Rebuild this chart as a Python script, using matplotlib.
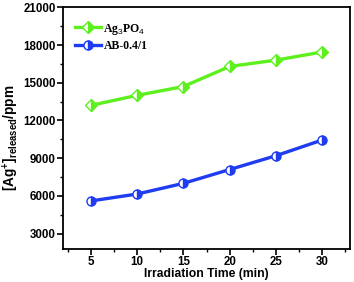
import matplotlib
matplotlib.use("Agg")
import matplotlib.pyplot as plt
from matplotlib.ticker import MultipleLocator

time_min = [5, 10, 15, 20, 25, 30]
ag3po4 = [13200, 14000, 14700, 16300, 16800, 17450]
ab_04_1 = [5600, 6150, 7000, 8100, 9200, 10450]
series_labels = ["Ag$_3$PO$_4$", "AB-0.4/1"]

plt.rcParams['font.family'] = ['Liberation Sans', 'DejaVu Sans']
plt.rcParams['mathtext.fontset'] = 'custom'
plt.rcParams['mathtext.rm'] = 'Liberation Sans'
plt.rcParams['mathtext.bf'] = 'Liberation Sans:bold'
fig = plt.figure(figsize=(3.54, 2.82), dpi=100)
ax = fig.add_axes([0.178, 0.118, 0.811, 0.856])

ax.plot(time_min, ag3po4, color='#5ef01e', lw=2.4, marker='D', ms=6.5,
        fillstyle='right', markerfacecoloralt='white', mec='#5ef01e', mew=1.0,
        label=series_labels[0])
ax.plot(time_min, ab_04_1, color='#1f3cf0', lw=2.4, marker='o', ms=6.5,
        fillstyle='right', markerfacecoloralt='white', mec='#1f3cf0', mew=1.0,
        label=series_labels[1])

ax.set_xlim(2, 33)
ax.set_ylim(1800, 21000)
ax.xaxis.set_minor_locator(MultipleLocator(2.5))
ax.yaxis.set_minor_locator(MultipleLocator(1500))
ax.set_xticks([5, 10, 15, 20, 25, 30])
ax.set_yticks([3000, 6000, 9000, 12000, 15000, 18000, 21000])

ax.tick_params(which='major', direction='out', length=4, width=1.2, labelsize=8.3, pad=1.2)
ax.tick_params(which='minor', direction='out', length=2, width=1.0)
for lab in ax.get_xticklabels() + ax.get_yticklabels():
    lab.set_fontweight('bold')
for sp in ax.spines.values():
    sp.set_linewidth(1.3)

ax.set_xlabel('Irradiation Time (min)', fontsize=8.7, fontweight='bold')
ax.xaxis.set_label_coords(0.498, -0.079)
ax.set_ylabel(r'$\mathbf{[Ag^{+}]_{released}/ppm}$', fontsize=9.8,
              fontweight='bold')
ax.yaxis.set_label_coords(-0.148, 0.46)

leg = ax.legend(loc='upper left', frameon=False,
                prop={'family': 'Liberation Serif', 'weight': 'bold', 'size': 8.5},
                bbox_to_anchor=(0.005, 0.985), handlelength=2.2, handletextpad=0.2,
                labelspacing=0.3)

fig.savefig('out.png', dpi=100)
